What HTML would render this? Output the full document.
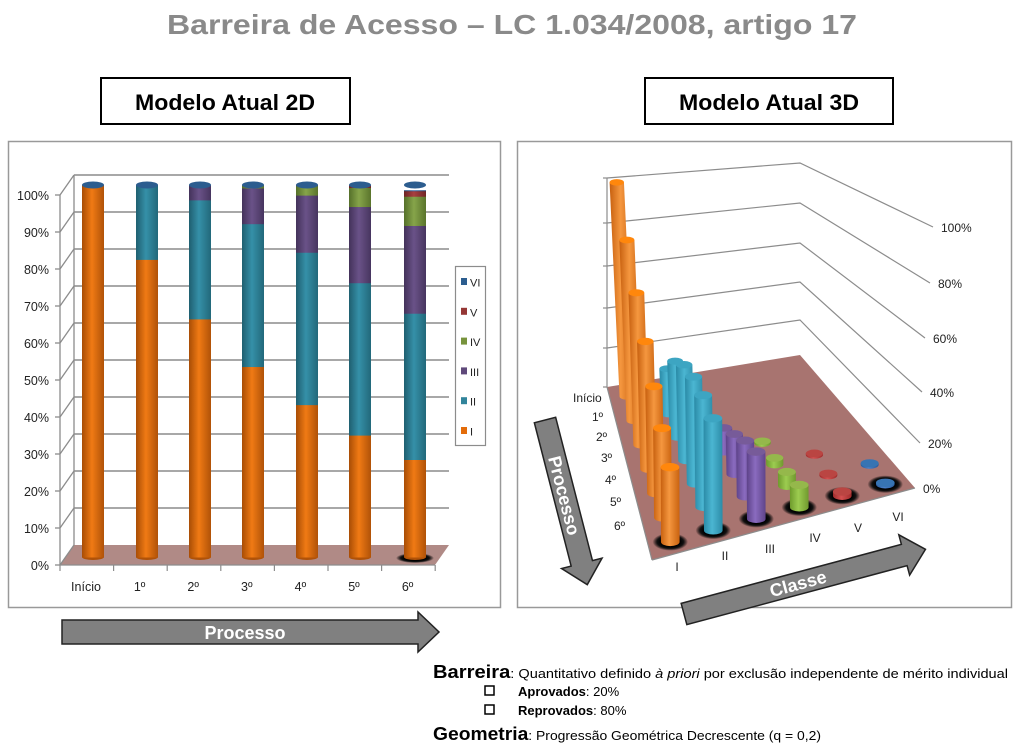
<!DOCTYPE html>
<html><head><meta charset="utf-8">
<style>html,body{margin:0;padding:0;background:#fff}svg{display:block}text{font-family:"Liberation Sans",sans-serif}</style>
</head><body>
<svg id="s" width="1024" height="755" viewBox="0 0 1024 755" xmlns="http://www.w3.org/2000/svg">
<defs>
<linearGradient id="gO" x1="0" x2="1"><stop offset="0" stop-color="#a84d05"/><stop offset=".45" stop-color="#f07a14"/><stop offset="1" stop-color="#b05208"/></linearGradient>
<linearGradient id="gT" x1="0" x2="1"><stop offset="0" stop-color="#1f5f70"/><stop offset=".45" stop-color="#3590a8"/><stop offset="1" stop-color="#22687a"/></linearGradient>
<linearGradient id="gP" x1="0" x2="1"><stop offset="0" stop-color="#43325a"/><stop offset=".45" stop-color="#6a5288"/><stop offset="1" stop-color="#47355f"/></linearGradient>
<linearGradient id="gG" x1="0" x2="1"><stop offset="0" stop-color="#55702a"/><stop offset=".45" stop-color="#86a44a"/><stop offset="1" stop-color="#5a742c"/></linearGradient>
<linearGradient id="gR" x1="0" x2="1"><stop offset="0" stop-color="#6e2424"/><stop offset=".45" stop-color="#a84040"/><stop offset="1" stop-color="#702626"/></linearGradient>
<linearGradient id="gB" x1="0" x2="1"><stop offset="0" stop-color="#1b3f6a"/><stop offset=".45" stop-color="#2f62a0"/><stop offset="1" stop-color="#1d4270"/></linearGradient>
<linearGradient id="hO" x1="0" x2="1"><stop offset="0" stop-color="#c7600f"/><stop offset=".45" stop-color="#f5973f"/><stop offset="1" stop-color="#c9620f"/></linearGradient>
<linearGradient id="hT" x1="0" x2="1"><stop offset="0" stop-color="#2a8aa6"/><stop offset=".45" stop-color="#4bb6d2"/><stop offset="1" stop-color="#2c8ba7"/></linearGradient>
<linearGradient id="hP" x1="0" x2="1"><stop offset="0" stop-color="#5d4288"/><stop offset=".45" stop-color="#8a6bbf"/><stop offset="1" stop-color="#5f4489"/></linearGradient>
<linearGradient id="hG" x1="0" x2="1"><stop offset="0" stop-color="#6e9a2c"/><stop offset=".45" stop-color="#9ccc50"/><stop offset="1" stop-color="#70992e"/></linearGradient>
<linearGradient id="hR" x1="0" x2="1"><stop offset="0" stop-color="#a02c2c"/><stop offset=".45" stop-color="#d45050"/><stop offset="1" stop-color="#a02c2c"/></linearGradient>
<linearGradient id="hB" x1="0" x2="1"><stop offset="0" stop-color="#2a5a9a"/><stop offset=".45" stop-color="#4a80c8"/><stop offset="1" stop-color="#2a5a9a"/></linearGradient>
<radialGradient id="sh"><stop offset=".55" stop-color="#000"/><stop offset=".75" stop-color="#111"/><stop offset="1" stop-color="#000" stop-opacity="0"/></radialGradient>
</defs>
<text x="512" y="34" text-anchor="middle" font-size="28" font-weight="bold" fill="#8a8a8a" textLength="690" lengthAdjust="spacingAndGlyphs">Barreira de Acesso – LC 1.034/2008, artigo 17</text>
<rect x="101" y="78" width="249" height="46" fill="#fff" stroke="#000" stroke-width="2"/>
<text x="225" y="110" text-anchor="middle" font-size="22" font-weight="bold" textLength="180" lengthAdjust="spacingAndGlyphs">Modelo Atual 2D</text>
<rect x="645" y="78" width="248" height="46" fill="#fff" stroke="#000" stroke-width="2"/>
<text x="769" y="110" text-anchor="middle" font-size="22" font-weight="bold" textLength="180" lengthAdjust="spacingAndGlyphs">Modelo Atual 3D</text>
<rect x="8.5" y="141.5" width="492" height="466" fill="#fff" stroke="#999" stroke-width="1.5"/>
<rect x="517.5" y="141.5" width="494" height="466" fill="#fff" stroke="#999" stroke-width="1.5"/>
<g id="L"></g>
<g id="R"></g>
<polygon points="62,620 418,620 418,612 439,632 418,652 418,644 62,644" fill="#808080" stroke="#222" stroke-width="1.5"/>
<text x="245" y="639" text-anchor="middle" font-size="18" font-weight="bold" fill="#fff">Processo</text>
<text x="433" y="678" font-size="13" textLength="575" lengthAdjust="spacingAndGlyphs"><tspan font-size="18" font-weight="bold">Barreira</tspan>: Quantitativo definido <tspan font-style="italic">à priori</tspan> por exclusão independente de mérito individual</text>
<rect x="485" y="686" width="9" height="9" fill="none" stroke="#000" stroke-width="1.5"/>
<text x="518" y="696" font-size="13"><tspan font-weight="bold">Aprovados</tspan>: 20%</text>
<rect x="485" y="705" width="9" height="9" fill="none" stroke="#000" stroke-width="1.5"/>
<text x="518" y="715" font-size="13"><tspan font-weight="bold">Reprovados</tspan>: 80%</text>
<text x="433" y="740" font-size="13" textLength="388" lengthAdjust="spacingAndGlyphs"><tspan font-size="18" font-weight="bold">Geometria</tspan>: Progressão Geométrica Decrescente (q = 0,2)</text>
</svg>
<script>
(function(){
var NS="http://www.w3.org/2000/svg";
function el(p,t,a,txt){var e=document.createElementNS(NS,t);for(var k in a)e.setAttribute(k,a[k]);if(txt!=null)e.textContent=txt;p.appendChild(e);return e;}
var D=[[100,80,64,51.2,40.96,32.77,26.21],[0,20,32,38.4,40.96,40.96,39.32],[0,0,4,9.6,15.36,20.48,23.59],[0,0,0,0.8,2.56,5.12,7.86],[0,0,0,0,0.16,0.64,1.47],[0,0,0,0,0,0.03,0.13]];
var G=["gO","gT","gP","gG","gR","gB"],H=["hO","hT","hP","hG","hR","hB"],C=["#e36c0a","#31849b","#5f497a","#77933c","#953735","#2c5d8f"];
var L=document.getElementById("L");
el(L,"polygon",{points:"60,565 435,565 449,545 74,545",fill:"#b08a86"});
for(var k=0;k<=10;k++){var yf=565-37*k,yb=545-37*k;
 if(k>0)el(L,"line",{x1:74,y1:yb,x2:449,y2:yb,stroke:"#8c8c8c","stroke-width":1.6});
 el(L,"line",{x1:60,y1:yf,x2:74,y2:yb,stroke:"#8c8c8c","stroke-width":1.3});
 el(L,"line",{x1:55,y1:yf,x2:60,y2:yf,stroke:"#8c8c8c","stroke-width":1.3});
 el(L,"text",{x:49,y:yf+5,"text-anchor":"end","font-size":12.5,fill:"#222"},(k*10)+"%");}
el(L,"line",{x1:74,y1:545,x2:74,y2:175,stroke:"#8c8c8c","stroke-width":1.3});
el(L,"line",{x1:60,y1:565,x2:60,y2:195,stroke:"#8c8c8c","stroke-width":1.3});
el(L,"line",{x1:60,y1:565,x2:435,y2:565,stroke:"#8c8c8c","stroke-width":1.3});
var labs=["Início","1º","2º","3º","4º","5º","6º"],cx=[93,147,200,253,307,360,415];
for(var j=0;j<=7;j++){var tx=60+53.6*j;el(L,"line",{x1:tx,y1:565,x2:tx,y2:571,stroke:"#8c8c8c","stroke-width":1.2});}
el(L,"ellipse",{cx:415,cy:558,rx:19,ry:5,fill:"url(#sh)"});
for(var j=0;j<7;j++){
 el(L,"text",{x:86+53.6*j,y:591,"text-anchor":"middle","font-size":12.5,fill:"#222"},labs[j]);
 var x=cx[j]-11,acc=0;
 el(L,"ellipse",{cx:cx[j],cy:557,rx:11,ry:3,fill:"#b05208"});
 for(var i=0;i<6;i++){var v=D[i][j];if(v<=0)continue;var y1=557-3.72*acc,y2=557-3.72*(acc+v);
  el(L,"rect",{x:x,y:y2,width:22,height:y1-y2+0.5,fill:"url(#"+G[i]+")"});acc+=v;}
 el(L,"ellipse",{cx:cx[j],cy:185,rx:11,ry:3.5,fill:"#2c5d8f"});
}
el(L,"rect",{x:455.5,y:266.5,width:30,height:179,fill:"#fff",stroke:"#8c8c8c","stroke-width":1.2});
var ln=["VI","V","IV","III","II","I"],lc=["#2c5d8f","#953735","#77933c","#5f497a","#31849b","#e36c0a"];
for(var i=0;i<6;i++){var yy=282+29.8*i;el(L,"rect",{x:461,y:yy-4,width:6,height:7,fill:lc[i]});
 el(L,"text",{x:470,y:yy+4.5,"font-size":11,fill:"#222"},ln[i]);}
var R=document.getElementById("R");
var gc="#8c8c8c";
var lw=[178,223,266,308,348,387],bc=[163,203,243,282,320,355],re=[[933,227],[930,283],[925,338],[922,392],[920,443],[915,488]];
el(R,"polygon",{points:"607,387 800,355 915,488 652,560",fill:"#a87470"});
el(R,"line",{x1:607,y1:178,x2:607,y2:387,stroke:gc,"stroke-width":1.2});
for(var k=0;k<6;k++){
 if(k<5)el(R,"polyline",{points:"607,"+lw[k]+" 800,"+bc[k]+" "+re[k][0]+","+re[k][1],fill:"none",stroke:gc,"stroke-width":1.2});
 el(R,"line",{x1:603,y1:lw[k],x2:607,y2:lw[k],stroke:gc,"stroke-width":1.2});
 el(R,"text",{x:re[k][0]+8,y:re[k][1]+5,"font-size":12,fill:"#222"},(100-20*k)+"%");}
el(R,"line",{x1:607,y1:387,x2:652,y2:560,stroke:gc,"stroke-width":1.2});
el(R,"line",{x1:652,y1:560,x2:915,y2:488,stroke:gc,"stroke-width":1.2});
function P(u,v){var lx=607+45*v,ly=387+173*v,rx=800+115*v,ry=355+133*v;return [lx+(rx-lx)*u,ly+(ry-ly)*u];}
var pl=["Início","1º","2º","3º","4º","5º","6º"],pp=[[573,402],[592,421],[596,441],[601,462],[605,484],[610,506],[614,530]];
for(var j=0;j<7;j++)el(R,"text",{x:pp[j][0],y:pp[j][1],"font-size":12,fill:"#222"},pl[j]);
var cl=["I","II","III","IV","V","VI"],cp=[[677,571],[725,560],[770,553],[815,542],[858,532],[898,521]];
for(var i=0;i<6;i++)el(R,"text",{x:cp[i][0],y:cp[i][1],"font-size":12,"text-anchor":"middle",fill:"#222"},cl[i]);
for(var j=0;j<7;j++){var v=(j+0.5)/7;
 for(var i=0;i<6;i++){var val=D[i][j];var u=(i+0.5)/6;var b=P(u,v);var r=7+2.5*v,ry=r*0.45;
  var s=214+(285-214)*(v-0.07)/0.86;
  if(j==6)el(R,"ellipse",{cx:b[0],cy:b[1],rx:r*1.9,ry:ry*2.1,fill:"url(#sh)"});
  if(val<=0)continue;
  var h=Math.max(val*s/100,1.5);var tx=b[0]-0.05*h*(1-v),ty=b[1]-h;
  el(R,"path",{d:"M"+(b[0]-r)+","+b[1]+" L"+(tx-r)+","+ty+" L"+(tx+r)+","+ty+" L"+(b[0]+r)+","+b[1]+" A"+r+","+ry+" 0 0 1 "+(b[0]-r)+","+b[1]+"Z",fill:"url(#"+H[i]+")"});
  el(R,"ellipse",{cx:tx,cy:ty,rx:r,ry:ry,fill:C[i],style:"filter:brightness(1.25)"});
 }}
function arrow(x,y,ang,len,w,label,fs){var g=el(R,"g",{transform:"translate("+x+","+y+") rotate("+ang+")"});
 var hw=w/2,hh=w*0.95,hl=22;
 el(g,"polygon",{points:"0,"+(-hw)+" "+(len-hl)+","+(-hw)+" "+(len-hl)+","+(-hh)+" "+len+",0 "+(len-hl)+","+hh+" "+(len-hl)+","+hw+" 0,"+hw,fill:"#808080",stroke:"#222","stroke-width":1.5});
 el(g,"text",{x:(len-hl)/2+4,y:fs*0.36,"text-anchor":"middle","font-size":fs,"font-weight":"bold",fill:"#fff"},label);}
arrow(545,420,75.6,170,22,"Processo",18);
arrow(684,614,-15,250,22,"Classe",18);
})();
</script>
</body></html>
